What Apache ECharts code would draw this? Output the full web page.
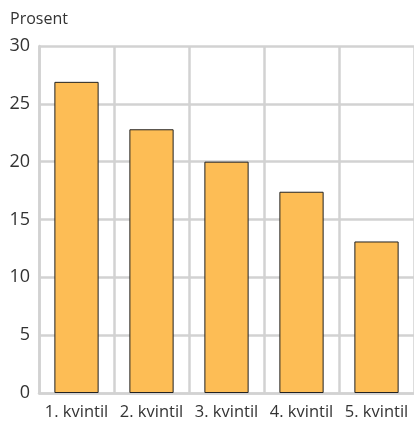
<!DOCTYPE html>
<html><head><meta charset="utf-8">
<script src="https://cdn.jsdelivr.net/npm/echarts@6/dist/echarts.min.js"></script>
<style>html,body{margin:0;padding:0;background:#fff}#c{width:414px;height:424px}</style>
</head><body><div id="c"></div>
<script>
const categories = ['1. kvintil','2. kvintil','3. kvintil','4. kvintil','5. kvintil'];
const values = [26.9, 22.8, 20.0, 17.4, 13.1];
const yTitle = 'Prosent';
const chart = echarts.init(document.getElementById('c'), null, {renderer:'canvas'});
chart.setOption({
  animation:false,
  textStyle:{fontFamily:'Open Sans'},
  grid:{left:39, right:-3, top:46, bottom:31, containLabel:false},
  xAxis:{type:'category', data:categories, boundaryGap:true,
    axisLine:{show:true, lineStyle:{color:'#d2d2d2', width:2.5}},
    axisTick:{show:false},
    axisLabel:{color:'#333', fontSize:16.5, margin:11, interval:0},
    splitLine:{show:true, interval:0, lineStyle:{color:'#d2d2d2', width:2.5}}
  },
  yAxis:{type:'value', min:0, max:30, interval:5,
    name:yTitle, nameLocation:'end', nameGap:19,
    nameTextStyle:{color:'#333', fontSize:16, align:'left', padding:[0,0,0,-29]},
    axisLine:{show:true, lineStyle:{color:'#d2d2d2', width:2.5}},
    axisTick:{show:false},
    axisLabel:{color:'#333', fontSize:18, margin:9},
    splitLine:{show:true, lineStyle:{color:'#d2d2d2', width:2.5}}
  },
  series:[{type:'bar', data:values, barWidth:'59%',
    itemStyle:{color:'#fdbd55', borderColor:'#222', borderWidth:1}}]
});
</script></body></html>
